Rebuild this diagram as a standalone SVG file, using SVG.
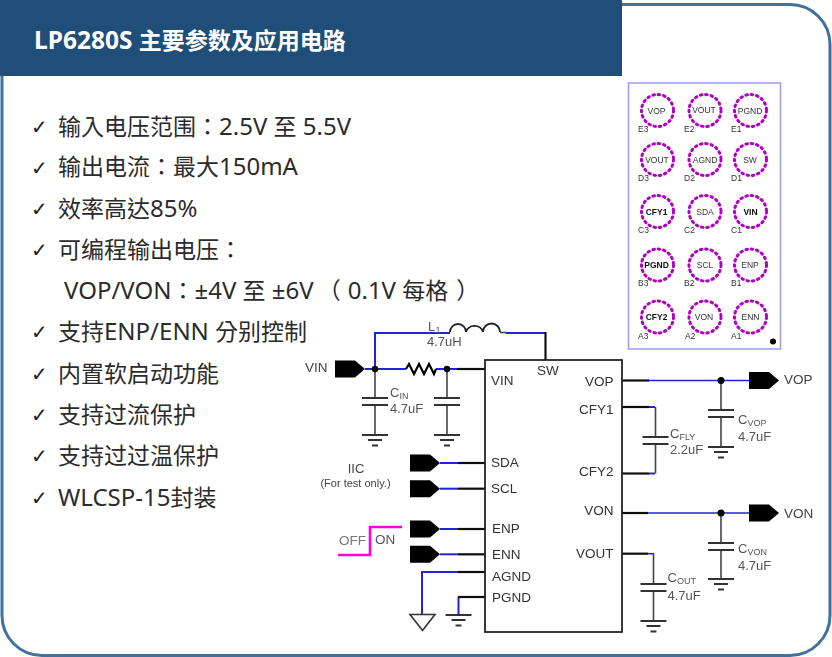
<svg xmlns="http://www.w3.org/2000/svg" width="832" height="657" viewBox="0 0 832 657">
<style>
text{font-family:"Liberation Sans",Arial,sans-serif;fill:#333}
.b{font-family:"Noto Sans","Noto Sans CJK TC",sans-serif;font-size:23px;fill:#2b2b2b}
.l{font-size:24px}
.t{font-family:"DejaVu Sans",sans-serif;font-size:20px;fill:#222}
.s{font-size:13.5px}
.v{font-size:13px;fill:#555}
.sub{font-size:9px;fill:#555}
.k{stroke:#111;stroke-width:2.2;fill:none}
.u{stroke:#2222dd;stroke-width:2;fill:none}
.g{stroke:#444;stroke-width:1.6;fill:none}
.p{stroke:#333;stroke-width:2;fill:none}
.tag{fill:#000}
.dot{fill:#000}
.pin{fill:none;stroke:#b000c0;stroke-width:3;stroke-dasharray:1.600 3.800;stroke-linecap:round}
.pl{font-size:8.5px;fill:#333;text-anchor:middle}
.pb{font-size:8.5px;fill:#111;font-weight:bold;text-anchor:middle}
.pc{font-size:8.5px;fill:#333}
</style>
<defs>
<filter id="soft" x="-5%" y="-5%" width="110%" height="110%"><feGaussianBlur stdDeviation="0.4"/></filter>
<path id="tg" d="M0,-8.500 H20 L30,0 L20,8.500 H0 Z" class="tag"/>
<g id="gnd"><path class="p" d="M-13,0 H13 M-7,5 H7 M-3,10.500 H3"/></g>
<g id="cap"><path class="p" d="M-13,0 H13 M-13,7 H13"/></g>
</defs>

<g id="frame">
<rect x="2" y="4.500" width="828" height="651" rx="40" ry="40" fill="#fff" stroke="#41719c" stroke-width="3"/>
</g>
<g id="title">
<rect x="0" y="0" width="622" height="76" fill="#1f4e79"/>
<text x="34" y="49" style="font-family:'Noto Sans','Noto Sans CJK SC',sans-serif;font-size:23px;font-weight:700;fill:#fff"><tspan style="font-size:24.500px">LP6280S </tspan>主要参数及应用电路</text>
</g>

<g id="features">
<text class="t" x="31" y="134">✓</text><text class="b" x="58" y="135">输入电压范围：<tspan class="l">2.5V </tspan>至<tspan class="l"> 5.5V</tspan></text>
<text class="t" x="31" y="175">✓</text><text class="b" x="58" y="175">输出电流：最大<tspan class="l">150mA</tspan></text>
<text class="t" x="31" y="216">✓</text><text class="b" x="58" y="217">效率高达<tspan class="l">85%</tspan></text>
<text class="t" x="31" y="257">✓</text><text class="b" x="58" y="258">可编程输出电压：</text>
<text class="b" x="64" y="299"><tspan class="l">VOP/VON</tspan>：<tspan class="l">±4V </tspan>至<tspan class="l"> ±6V</tspan><tspan dx="4">（</tspan><tspan class="l" dx="7">0.1V </tspan>每格<tspan dx="8">）</tspan></text>
<text class="t" x="31" y="339">✓</text><text class="b" x="58" y="340">支持<tspan class="l">ENP/ENN </tspan>分别控制</text>
<text class="t" x="31" y="381">✓</text><text class="b" x="58" y="382">内置软启动功能</text>
<text class="t" x="31" y="422">✓</text><text class="b" x="58" y="423">支持过流保护</text>
<text class="t" x="31" y="463">✓</text><text class="b" x="58" y="464">支持过过温保护</text>
<text class="t" x="31" y="505">✓</text><text class="b" x="58" y="506"><tspan class="l">WLCSP-15</tspan>封装</text>
</g>

<g id="pinout" filter="url(#soft)">
<rect x="628.500" y="83" width="152" height="266" fill="#fff" stroke="#9a9af5" stroke-width="1.500"/>
<circle class="pin" cx="657.500" cy="110.500" r="16"/><circle class="pin" cx="705" cy="110.500" r="16"/><circle class="pin" cx="750.500" cy="110.500" r="16"/>
<circle class="pin" cx="657.500" cy="159.500" r="16"/><circle class="pin" cx="705" cy="159.500" r="16"/><circle class="pin" cx="750.500" cy="159.500" r="16"/>
<circle class="pin" cx="657.500" cy="211.500" r="16"/><circle class="pin" cx="705" cy="211.500" r="16"/><circle class="pin" cx="750.500" cy="211.500" r="16"/>
<circle class="pin" cx="657.500" cy="265" r="16"/><circle class="pin" cx="705" cy="265" r="16"/><circle class="pin" cx="750.500" cy="265" r="16"/>
<circle class="pin" cx="657.500" cy="317" r="16"/><circle class="pin" cx="705" cy="317" r="16"/><circle class="pin" cx="750.500" cy="317" r="16"/>
<text class="pl" x="656.500" y="113.500">VOP</text><text class="pl" x="704" y="113">VOUT</text><text class="pl" x="750" y="113.500">PGND</text>
<text class="pl" x="657" y="162.500">VOUT</text><text class="pl" x="705" y="162.500">AGND</text><text class="pl" x="750" y="162.500">SW</text>
<text class="pb" x="656.500" y="215">CFY1</text><text class="pl" x="705" y="215">SDA</text><text class="pb" x="750.500" y="215">VIN</text>
<text class="pb" x="656.500" y="268">PGND</text><text class="pl" x="705" y="268">SCL</text><text class="pl" x="750" y="268">ENP</text>
<text class="pb" x="656.500" y="320">CFY2</text><text class="pl" x="704" y="320">VON</text><text class="pl" x="750.500" y="320">ENN</text>
<text class="pc" x="638" y="132">E3</text><text class="pc" x="684" y="132">E2</text><text class="pc" x="731" y="132">E1</text>
<text class="pc" x="638" y="181">D3</text><text class="pc" x="684" y="181">D2</text><text class="pc" x="731" y="181">D1</text>
<text class="pc" x="638" y="233">C3</text><text class="pc" x="684" y="233">C2</text><text class="pc" x="731" y="233">C1</text>
<text class="pc" x="638" y="286">B3</text><text class="pc" x="684" y="286">B2</text><text class="pc" x="731" y="286">B1</text>
<text class="pc" x="638" y="339">A3</text><text class="pc" x="685" y="339">A2</text><text class="pc" x="731" y="339">A1</text>
<circle cx="773" cy="341.500" r="3" fill="#000"/>
</g>

<g id="schematic" filter="url(#soft)">
<g id="connectors">
<path class="u" d="M375,369 V333 H450"/>
<path class="g" d="M500,332.500 H506"/>
<path class="u" d="M506,333 H545"/>
<path class="k" d="M545.500,332 V360"/>
<path class="u" d="M365,369 H406"/>
<path class="u" d="M436,369 H457"/>
<path class="k" d="M457,369 H485"/>
<path class="g" d="M375,369 V398 M375,405 V435"/>
<path class="g" d="M447,369 V398 M447,405 V435"/>
<path class="u" d="M440,463 H458"/><path class="k" d="M458,463 H485"/>
<path class="u" d="M440,488.700 H458"/><path class="k" d="M458,488.700 H485"/>
<path class="u" d="M440,529 H458"/><path class="k" d="M458,529 H485"/>
<path class="u" d="M440,554.300 H458"/><path class="k" d="M458,554.300 H485"/>
<path class="u" d="M422,614 V572 H458"/><path class="k" d="M458,572 H485"/>
<path class="u" d="M458.500,614 V597"/><path class="k" d="M458,597 H485"/>
<path d="M338,555 H370 V527 H402" fill="none" stroke="#ff00dd" stroke-width="2.600"/>
<path class="k" d="M622,380.500 H649"/><path class="u" style="stroke-width:1.700" d="M649,380.500 H749"/>
<path class="g" d="M721,380.500 V410 M721,417 V447"/>
<path class="k" d="M622,407 H649"/><path class="u" d="M649,407 H655"/>
<path class="k" d="M622,473.500 H649"/><path class="u" d="M649,473.500 H655"/>
<path class="g" d="M655.500,407 V437 M655.500,444 V473.500"/>
<path class="k" d="M622,513 H648"/><path class="u" style="stroke-width:1.600" d="M648,513 H749"/>
<path class="g" d="M721,513 V543 M721,550 V579"/>
<path class="k" d="M622,553.700 H648"/><path class="u" style="stroke-width:1.600" d="M648,553.700 H654"/>
<path class="g" d="M653.500,554 V584 M653.500,591 V621"/>
</g>

<g id="chip">
<rect x="485" y="360" width="137" height="272" fill="none" stroke="#222" stroke-width="1.800"/>
<text class="s" x="491" y="385">VIN</text>
<text class="s" x="537" y="375">SW</text>
<text class="s" x="491" y="467">SDA</text>
<text class="s" x="491" y="493">SCL</text>
<text class="s" x="492" y="533">ENP</text>
<text class="s" x="492" y="559">ENN</text>
<text class="s" x="492" y="581">AGND</text>
<text class="s" x="492" y="602">PGND</text>
<text class="s" x="613.500" y="386" text-anchor="end">VOP</text>
<text class="s" x="613.500" y="414" text-anchor="end">CFY1</text>
<text class="s" x="613.500" y="476" text-anchor="end">CFY2</text>
<text class="s" x="613.500" y="514.500" text-anchor="end">VON</text>
<text class="s" x="613.500" y="558" text-anchor="end">VOUT</text>
</g>

<g id="tag-vin"><use href="#tg" x="335" y="369"/><text class="s" x="305" y="372" style="fill:#444">VIN</text><circle class="dot" cx="375" cy="369" r="3.200"/></g>
<g id="tag-vop"><use href="#tg" x="749" y="380.500"/><text class="s" x="784" y="384" style="fill:#444">VOP</text><circle class="dot" cx="721" cy="380.500" r="3.500"/></g>
<g id="tag-von"><use href="#tg" x="749" y="513"/><text class="s" x="784" y="518" style="fill:#444">VON</text><circle class="dot" cx="721" cy="513" r="3.500"/></g>
<g id="tag-sda"><use href="#tg" x="410" y="463"/></g>
<g id="tag-scl"><use href="#tg" x="410" y="488.700"/></g>
<g id="tag-enp"><use href="#tg" x="410" y="529"/></g>
<g id="tag-enn"><use href="#tg" x="410" y="554.300"/></g>

<g id="iic-note">
<text x="356" y="473" text-anchor="middle" style="font-size:13px;fill:#444">IIC</text>
<text x="355.500" y="487" text-anchor="middle" style="font-size:11px;fill:#444">(For test only.)</text>
</g>
<g id="off-on">
<text x="339" y="545" style="font-size:13.500px;fill:#777">OFF</text>
<text x="375" y="544" style="font-size:13.500px;fill:#555">ON</text>
</g>

<g id="L1">
<path d="M450,332 A8,8 0 0 1 466,332 A9,9 0 0 1 483,332 A8.500,8.500 0 0 1 500,332" fill="none" stroke="#222" stroke-width="1.800"/>
<text class="v" x="428" y="331">L</text><text class="sub" x="435.500" y="333">1</text>
<text class="v" x="427" y="346">4.7uH</text>
</g>
<g id="R1"><path d="M406,369 L409,364 L414,374 L419,364 L424,374 L429,364 L434,374 L436,369" fill="none" stroke="#000" stroke-width="2.200"/><circle class="dot" cx="447" cy="369" r="3.200"/></g>
<g id="CIN"><use href="#cap" x="375" y="398"/><use href="#gnd" x="375" y="435"/>
<text class="v" x="390" y="397">C</text><text class="sub" x="399.500" y="399">IN</text><text class="v" x="390" y="413">4.7uF</text></g>
<g id="C2"><use href="#cap" x="447" y="398"/><use href="#gnd" x="447" y="435"/></g>
<g id="CVOP"><use href="#cap" x="721" y="410"/><use href="#gnd" x="721" y="447"/>
<text class="v" x="738" y="424">C</text><text class="sub" x="747.500" y="426">VOP</text><text class="v" x="738" y="441">4.7uF</text></g>
<g id="CFLY"><use href="#cap" x="655.500" y="437"/>
<text class="v" x="670" y="438">C</text><text class="sub" x="679.500" y="440">FLY</text><text class="v" x="670" y="454">2.2uF</text></g>
<g id="CVON"><use href="#cap" x="721" y="543"/><use href="#gnd" x="721" y="579"/>
<text class="v" x="738" y="553">C</text><text class="sub" x="747.500" y="555">VON</text><text class="v" x="738" y="570">4.7uF</text></g>
<g id="COUT"><use href="#cap" x="653.500" y="584"/><use href="#gnd" x="653.500" y="621"/>
<text class="v" x="667.500" y="582">C</text><text class="sub" x="677" y="584">OUT</text><text class="v" x="667.500" y="600">4.7uF</text></g>
<g id="agnd-sym"><path d="M410,614.500 H435 L422.500,630.500 Z" fill="#fff" stroke="#333" stroke-width="1.600"/></g>
<g id="pgnd-sym"><use href="#gnd" x="458.500" y="615"/></g>
</g>
</svg>
